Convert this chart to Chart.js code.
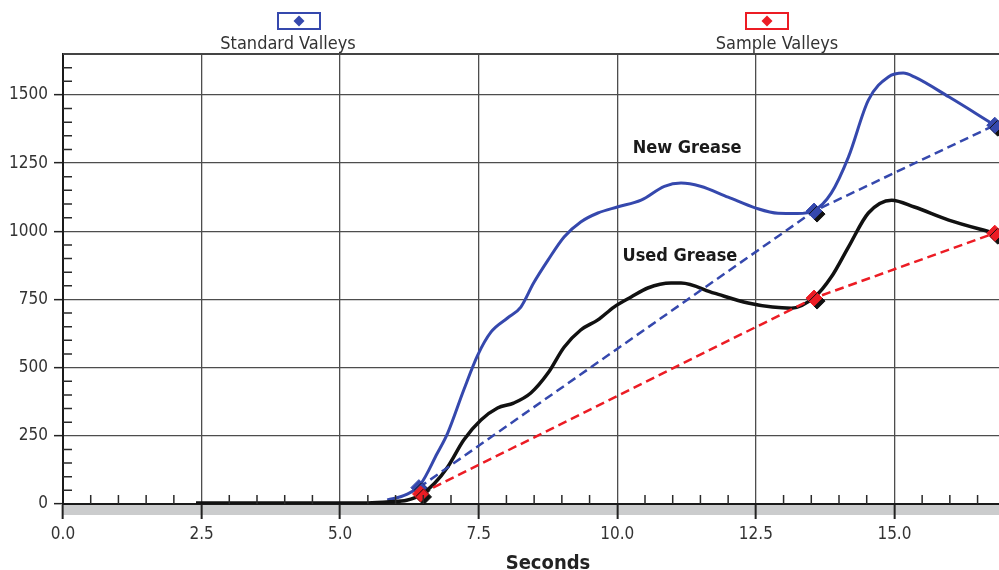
<!DOCTYPE html>
<html>
<head>
<meta charset="utf-8">
<title>Grease valleys</title>
<script src="https://cdn.jsdelivr.net/npm/chart.js@4.4.1/dist/chart.umd.min.js"></script>
<style>
html, body { margin: 0; padding: 0; background: #fff; overflow: hidden; }
#wrap { width: 999px; height: 570px; overflow: hidden; }
</style>
</head>
<body>
<div id="wrap"><canvas id="greaseChart" width="1042" height="570"></canvas></div>
<script>
// ==================== DATA ====================
const xTicks = [0, 2.5, 5, 7.5, 10, 12.5, 15];
const yTicks = [0, 250, 500, 750, 1000, 1250, 1500];

// New Grease trace (seconds / value)
const newX = [5.85, 6.2, 6.45, 6.75, 6.94, 7.23, 7.48, 7.72, 8.02, 8.26, 8.49, 8.75, 9.04, 9.34, 9.65, 10.0,
              10.43, 10.85, 11.15, 11.5, 12.0, 12.5, 12.9, 13.25, 13.55, 13.86, 14.17, 14.53, 14.89, 15.16,
              15.36, 15.98, 16.81];
const newY = [15, 35, 72, 185, 260, 418, 545, 630, 682, 722, 810, 894, 979, 1034, 1067, 1089,
              1114, 1165, 1177, 1165, 1125, 1085, 1066, 1065, 1076, 1140, 1272, 1481, 1566, 1580,
              1566, 1493, 1389];

// Used Grease trace
const usedX = [2.4, 3.5, 4.5, 5.5, 5.9, 6.2, 6.45, 6.7, 6.94, 7.23, 7.54, 7.84, 8.13, 8.44, 8.75, 9.04,
               9.34, 9.65, 9.94, 10.25, 10.55, 10.97, 11.15, 11.75, 12.36, 12.8, 13.14, 13.56, 13.86,
               14.17, 14.53, 14.95, 15.36, 15.98, 16.81];
const usedY = [4, 4, 4, 4, 8, 14, 33, 75, 136, 235, 308, 352, 370, 407, 480, 575,
               638, 675, 722, 759, 792, 810, 810, 773, 737, 722, 718, 759, 832,
               942, 1067, 1114, 1089, 1041, 993];

// valley points
const stdX = [6.42, 13.55, 16.81];
const stdY = [60, 1074, 1389];
const smpX = [6.45, 13.55, 16.81];
const smpY = [37, 755, 993];

const legendLabels = ['Standard Valleys', 'Sample Valleys'];
const curveLabels = ['New Grease', 'Used Grease'];

// ==================== STYLE ====================
const FONT = '"DejaVu Sans Condensed", "DejaVu Sans", sans-serif';
const BLUE = '#3548ad';
const RED = '#ec1c24';
const INK = '#111111';

Chart.defaults.font.family = FONT;
Chart.defaults.color = '#333';

const pts = (xs, ys) => xs.map((x, i) => ({ x: x, y: ys[i] }));

// ==================== DECOR PLUGIN ====================
const decor = {
    id: 'decor',
    beforeDraw(chart){
        const { ctx, chartArea: a } = chart;
        ctx.save();
        ctx.fillStyle = '#cbcccd';
        ctx.fillRect(a.left, a.bottom, chart.width - a.left, 11);
        ctx.restore();
    },
    beforeDatasetDraw(chart, args){
        if (!chart.data.datasets[args.index].shadow) return;
        const ctx = chart.ctx;
        ctx.save();
        ctx.shadowColor = '#111';
        ctx.shadowOffsetX = 3;
        ctx.shadowOffsetY = 3;
        ctx.shadowBlur = 0;
    },
    afterDatasetDraw(chart, args){
        if (chart.data.datasets[args.index].shadow) chart.ctx.restore();
    },
    afterDraw(chart, args, opts){
        const { ctx, chartArea: a } = chart;
        const xs = chart.scales.x, ys = chart.scales.y;
        ctx.save();

        // top frame line
        ctx.strokeStyle = '#444';
        ctx.lineWidth = 2;
        ctx.beginPath();
        ctx.moveTo(a.left, a.top);
        ctx.lineTo(chart.width, a.top);
        ctx.stroke();

        // minor ticks, inside the plot
        ctx.strokeStyle = '#2a2a2a';
        ctx.lineWidth = 1.5;
        ctx.beginPath();
        for (let v = 50; v < ys.max; v += 50){
            if (v % 250 === 0) continue;
            const py = ys.getPixelForValue(v);
            ctx.moveTo(a.left, py);
            ctx.lineTo(a.left + 9, py);
        }
        for (let k = 1; k * 0.5 < xs.max; k++){
            if (k % 5 === 0) continue;
            const px = xs.getPixelForValue(k * 0.5);
            ctx.moveTo(px, a.bottom);
            ctx.lineTo(px, a.bottom - 9);
        }
        ctx.stroke();

        // curve labels
        ctx.font = 'bold 18px ' + FONT;
        ctx.fillStyle = '#1a1a1a';
        ctx.textAlign = 'center';
        ctx.textBaseline = 'middle';
        opts.curveAt.forEach((p, i) => {
            ctx.fillText(curveLabels[i], xs.getPixelForValue(p[0]), ys.getPixelForValue(p[1]));
        });

        // legend: boxed diamond above the name
        const colors = [BLUE, RED];
        ctx.font = '18px ' + FONT;
        ctx.textBaseline = 'alphabetic';
        legendLabels.forEach((txt, i) => {
            const bx = opts.boxAt[i], tx = opts.textAt[i];
            ctx.strokeStyle = colors[i];
            ctx.lineWidth = 2;
            ctx.strokeRect(bx - 21, 13, 42, 16);
            ctx.fillStyle = colors[i];
            ctx.beginPath();
            ctx.moveTo(bx, 15.5);
            ctx.lineTo(bx + 5.5, 21);
            ctx.lineTo(bx, 26.5);
            ctx.lineTo(bx - 5.5, 21);
            ctx.closePath();
            ctx.fill();
            ctx.fillStyle = '#333';
            ctx.fillText(txt, tx, 49);
        });
        ctx.restore();
    }
};

// ==================== CHART ====================
const ctx = document.getElementById('greaseChart').getContext('2d');
const chart = new Chart(ctx, {
    type: 'line',
    data: {
        datasets: [
            {
                label: curveLabels[0],
                data: pts(newX, newY),
                borderColor: BLUE,
                borderWidth: 3,
                pointRadius: 0,
                cubicInterpolationMode: 'monotone',
                order: 5
            },
            {
                label: curveLabels[1],
                data: pts(usedX, usedY),
                borderColor: INK,
                borderWidth: 3.5,
                pointRadius: 0,
                cubicInterpolationMode: 'monotone',
                order: 4
            },
            {
                label: legendLabels[0],
                data: pts(stdX, stdY),
                borderColor: BLUE,
                borderWidth: 2.5,
                borderDash: [9, 5],
                pointRadius: 0,
                tension: 0,
                order: 3
            },
            {
                label: legendLabels[1],
                data: pts(smpX, smpY),
                borderColor: RED,
                borderWidth: 2.5,
                borderDash: [9, 5],
                pointRadius: 0,
                tension: 0,
                order: 2
            },
            {
                label: legendLabels[0] + ' marks',
                data: pts(stdX, stdY),
                showLine: false,
                pointStyle: 'rectRot',
                pointRadius: 8,
                pointBackgroundColor: BLUE,
                pointBorderColor: BLUE,
                pointBorderWidth: 1,
                shadow: true,
                clip: false,
                order: 1
            },
            {
                label: legendLabels[1] + ' marks',
                data: pts(smpX, smpY),
                showLine: false,
                pointStyle: 'rectRot',
                pointRadius: 8,
                pointBackgroundColor: RED,
                pointBorderColor: RED,
                pointBorderWidth: 1,
                shadow: true,
                clip: false,
                order: 0
            }
        ]
    },
    options: {
        responsive: false,
        animation: false,
        layout: { padding: { top: 54, right: 0, left: 0, bottom: 0 } },
        plugins: {
            legend: { display: false },
            tooltip: { enabled: false },
            decor: {
                curveAt: [[11.26, 1305], [11.13, 909]],
                boxAt: [299, 767],
                textAt: [288, 777]
            }
        },
        scales: {
            x: {
                type: 'linear',
                min: 0,
                max: 17.5,
                afterFit: s => { s.height = 66; s.paddingLeft = 0; s.paddingRight = 0; },
                afterBuildTicks: s => { s.ticks = xTicks.map(v => ({ value: v })); },
                ticks: {
                    font: { size: 17 },
                    color: '#333',
                    padding: 5,
                    maxRotation: 0,
                    callback: v => v.toFixed(1)
                },
                grid: { color: '#4d4d4d', lineWidth: 1.3, tickLength: 15, tickColor: '#222', tickWidth: 2 },
                border: { color: '#1a1a1a', width: 2 },
                title: {
                    display: true,
                    text: 'Seconds',
                    color: '#222',
                    font: { size: 20, weight: 'bold', lineHeight: 1 },
                    padding: { top: 0, bottom: -4 }
                }
            },
            y: {
                min: 0,
                max: 1650,
                afterFit: s => { s.width = 63; },
                afterBuildTicks: s => { s.ticks = yTicks.map(v => ({ value: v })); },
                ticks: {
                    font: { size: 17 },
                    color: '#333',
                    padding: 6,
                    callback: v => String(v)
                },
                grid: { color: '#4d4d4d', lineWidth: 1.3, tickLength: 9, tickColor: '#222', tickWidth: 1.5 },
                border: { color: '#1a1a1a', width: 2 }
            }
        }
    },
    plugins: [decor]
});
</script>
</body>
</html>
